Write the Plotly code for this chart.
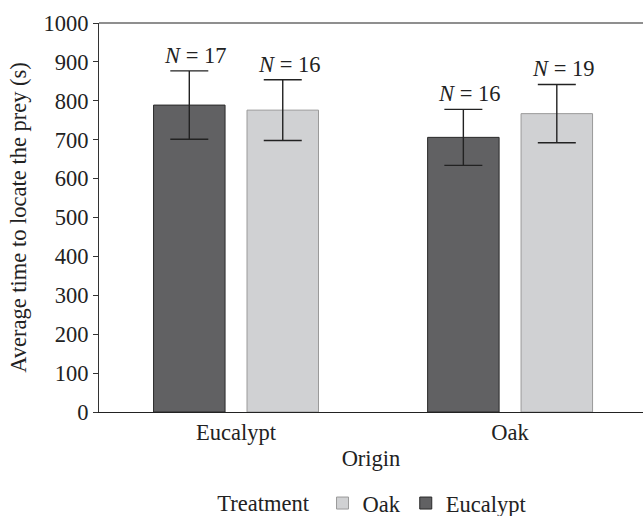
import plotly.graph_objects as go

# Mean time to locate prey, by origin and treatment
origin = ["Eucalypt", "Oak"]
euc_mean = [789, 706]
euc_err = [88, 72]
euc_n = [17, 16]
oak_mean = [776, 767]
oak_err = [78, 75]
oak_n = [16, 19]
y_ticks = list(range(0, 1001, 100))

FONT = "Liberation Serif, Times New Roman, serif"
FS = 22.5
TXT = "#222222"

BARGAP = 0.318
GROUPGAP = 0.235
slot = (1 - BARGAP) / 2

fig = go.Figure()
fig.add_trace(go.Bar(
    name="Eucalypt", x=origin, y=euc_mean,
    marker=dict(color="#616163", line=dict(color="#2a2a2a", width=1)),
    error_y=dict(type="data", array=euc_err, color="#222222", thickness=1.4, width=19),
    legendrank=2,
))
fig.add_trace(go.Bar(
    name="Oak", x=origin, y=oak_mean,
    marker=dict(color="#d0d1d3", line=dict(color="#9a9a9a", width=1)),
    error_y=dict(type="data", array=oak_err, color="#222222", thickness=1.4, width=19),
    legendrank=1,
))

# sample size labels above each error bar
for means, errs, ns, off in ((euc_mean, euc_err, euc_n, -slot / 2),
                             (oak_mean, oak_err, oak_n, slot / 2)):
    for i, (m, e, n) in enumerate(zip(means, errs, ns)):
        fig.add_annotation(
            x=i + off, y=m + e, xref="x", yref="y",
            text=f"<i>N</i> = {n}", showarrow=False,
            yanchor="bottom", xanchor="center", yshift=1, xshift=6,
            font=dict(family=FONT, size=FS, color=TXT),
        )

# top border of the plotting area
fig.add_shape(type="line", xref="paper", yref="paper", x0=0, x1=1, y0=1, y1=1,
              line=dict(color="#6a6a6a", width=1.6))

fig.update_layout(
    width=643, height=516,
    margin=dict(l=99, r=0, t=23, b=104, autoexpand=False),
    paper_bgcolor="white", plot_bgcolor="white",
    barmode="group", bargap=BARGAP, bargroupgap=GROUPGAP,
    font=dict(family=FONT, size=FS, color=TXT),
    legend=dict(
        orientation="h", x=0.505, xanchor="center", y=-0.235, yanchor="middle",
        title=dict(text="Treatment ", side="left", font=dict(family=FONT, size=FS, color=TXT)),
        font=dict(family=FONT, size=FS, color=TXT),
        itemwidth=30,
    ),
    xaxis=dict(
        range=[-0.5, 1.485], showline=True, linecolor="#222222", linewidth=1.4,
        ticks="", showgrid=False, zeroline=False,
        title=dict(text="Origin", standoff=6, font=dict(family=FONT, size=FS, color=TXT)),
        tickfont=dict(family=FONT, size=FS, color=TXT),
        automargin=False,
    ),
    yaxis=dict(
        range=[0, 1000], tickvals=y_ticks, showline=True, linecolor="#333333", linewidth=1.2,
        ticks="outside", ticklen=5, tickcolor="#333333", tickwidth=1,
        showgrid=False, zeroline=False,
        title=dict(text="Average time to locate the prey (s)", standoff=10,
                   font=dict(family=FONT, size=FS, color=TXT)),
        tickfont=dict(family=FONT, size=FS, color=TXT),
        automargin=False,
    ),
)

fig.write_html("out.html")
